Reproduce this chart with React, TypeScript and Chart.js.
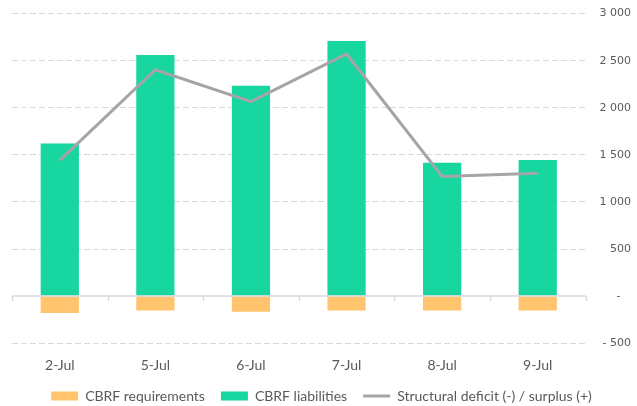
import React, { useEffect, useRef } from "react";
import { Chart, registerables } from "chart.js";

Chart.register(...registerables);

const categories = ["2-Jul", "5-Jul", "6-Jul", "7-Jul", "8-Jul", "9-Jul"];
const requirements = [-178, -153, -167, -153, -153, -153];
const liabilities = [1620, 2561, 2233, 2710, 1417, 1446];
const structural = [1442, 2404, 2065, 2571, 1271, 1306];
const yMin = -500;
const yMax = 3000;
const yStep = 500;

const GREEN = "#17D6A0";
const ORANGE = "#FFC46D";
const LINE = "#A5A5A5";
const TEXT = "#595959";
const GRID = "#D9D9D9";
const FONT = "Lato, 'DejaVu Sans', sans-serif";

const fmt = (v: number) => {
  if (v === 0) return "-   ";
  const s = Math.abs(v).toString().replace(/\B(?=(\d{3})+(?!\d))/g, " ");
  return v < 0 ? "- " + s : s;
};

const zeroAxis = {
  id: "zeroAxis",
  afterDatasetsDraw(chart: any) {
    const { ctx, chartArea, scales } = chart;
    const x = scales.x;
    const y0 = scales.y.getPixelForValue(0);
    ctx.save();
    ctx.strokeStyle = GRID;
    ctx.lineWidth = 1.5;
    ctx.beginPath();
    ctx.moveTo(chartArea.left, y0);
    ctx.lineTo(chartArea.right, y0);
    for (let i = 0; i <= categories.length; i++) {
      const bx = Math.round(x.getPixelForValue(i - 0.5)) + 0.5;
      ctx.moveTo(bx, y0);
      ctx.lineTo(bx, y0 + 5);
    }
    ctx.stroke();
    ctx.restore();
  },
};

// tighten the legend vertically while keeping its horizontal item spacing
const LEGEND_SHRINK = 14;
const LEGEND_LIFT = 7;
const legendTighten = {
  id: "legendTighten",
  afterInit(chart: any) {
    const lg = chart.legend;
    if (!lg || lg.__patched) return;
    lg.__patched = true;
    const fit = lg.fit.bind(lg);
    lg.fit = function () {
      fit();
      this.height -= LEGEND_SHRINK;
    };
    const draw = lg.draw.bind(lg);
    lg.draw = function () {
      this.top -= LEGEND_LIFT;
      draw();
      this.top += LEGEND_LIFT;
    };
  },
};

export default function App() {
  const ref = useRef<HTMLCanvasElement>(null);
  useEffect(() => {
    document.body.style.margin = "0";
    const chart = new Chart(ref.current!, {
      type: "bar",
      data: {
        labels: categories,
        datasets: [
          {
            type: "bar",
            label: "CBRF requirements",
            data: requirements,
            backgroundColor: ORANGE,
            borderWidth: 0,
            order: 2,
            categoryPercentage: 0.8,
            barPercentage: 0.5,
          },
          {
            type: "bar",
            label: "CBRF liabilities",
            data: liabilities,
            backgroundColor: GREEN,
            borderWidth: 0,
            order: 2,
            categoryPercentage: 0.8,
            barPercentage: 0.5,
          },
          {
            type: "line",
            label: "Structural deficit (-) / surplus (+)",
            data: structural,
            borderColor: LINE,
            backgroundColor: LINE,
            borderWidth: 3,
            pointRadius: 0,
            tension: 0,
            order: 0,
          } as any,
        ],
      },
      options: {
        animation: false,
        responsive: true,
        maintainAspectRatio: false,
        layout: { padding: { top: 11, left: 12, right: 6, bottom: 0 } },
        plugins: {
          tooltip: { enabled: false },
          legend: {
            position: "bottom",
            labels: {
              color: TEXT,
              font: { family: FONT, size: 14 },
              usePointStyle: true,
              boxHeight: 9,
              pointStyleWidth: 27,
              padding: 16,
              sort: (a: any, b: any) => a.datasetIndex - b.datasetIndex,
              generateLabels: (c: any) => {
                const items = Chart.defaults.plugins.legend.labels.generateLabels(c);
                return items.map((it: any) => {
                  if (it.datasetIndex === 2) {
                    return { ...it, pointStyle: "line", strokeStyle: LINE, lineWidth: 3, fillStyle: LINE };
                  }
                  return { ...it, pointStyle: "rect", lineWidth: 0 };
                });
              },
            },
          },
        },
        scales: {
          x: {
            stacked: true,
            grid: { display: false },
            border: { display: false },
            ticks: {
              color: TEXT,
              padding: 6,
              font: { family: FONT, size: 14 },
            },
          },
          y: {
            stacked: true,
            position: "right",
            min: yMin,
            max: yMax,
            border: { display: false, dash: [6, 3] },
            grid: {
              color: (ctx: any) => (ctx.tick && ctx.tick.value === 0 ? "rgba(0,0,0,0)" : GRID),
              drawTicks: false,
              lineWidth: 1,
            },
            ticks: {
              stepSize: yStep,
              color: TEXT,
              crossAlign: "far",
              padding: 7,
              font: { family: "'DejaVu Sans', sans-serif", size: 11 },
              callback: (v: any) => fmt(Number(v)),
            },
          },
        },
      },
      plugins: [zeroAxis, legendTighten],
    } as any);
    return () => chart.destroy();
  }, []);
  return (
    <div style={{ width: 637, height: 406, position: "relative" }}>
      <canvas ref={ref} />
    </div>
  );
}
